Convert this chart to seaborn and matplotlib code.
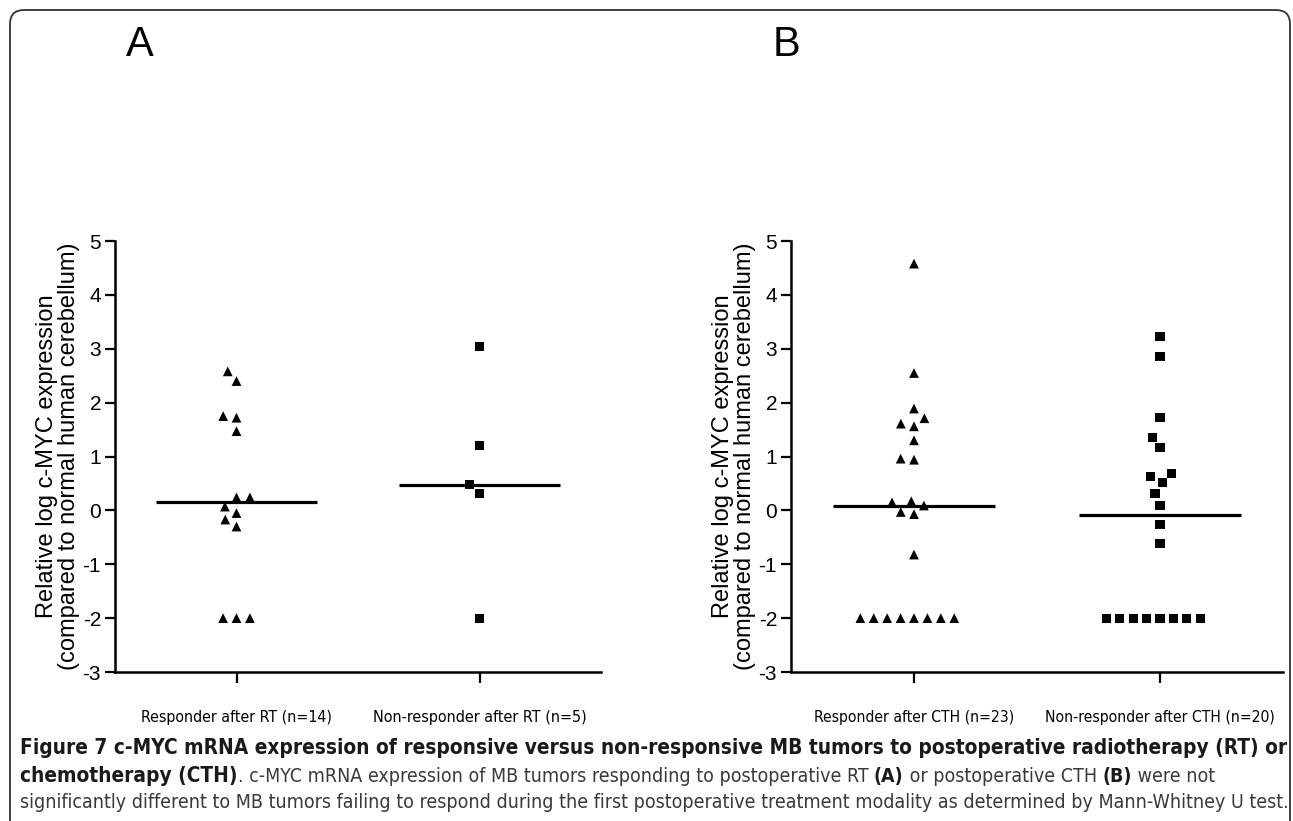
import numpy as np
import pandas as pd
import matplotlib
matplotlib.use("Agg")
import matplotlib.pyplot as plt
import seaborn as sns
from matplotlib import font_manager
from matplotlib.patches import FancyBboxPatch
from matplotlib.transforms import IdentityTransform

# ---------------- data ----------------
cats_rt = ["Responder after RT (n=14)", "Non-responder after RT (n=5)"]
cats_cth = ["Responder after CTH (n=23)", "Non-responder after CTH (n=20)"]

resp_rt = [2.58, 2.40, 1.75, 1.72, 1.47, 0.24, 0.24, 0.07, -0.05, -0.17, -0.30,
           -2.0, -2.0, -2.0]
nonresp_rt = [3.04, 1.20, 0.48, 0.32, -2.0]

resp_cth = [4.58, 2.55, 1.89, 1.71, 1.61, 1.56, 1.30, 0.96, 0.94, 0.17, 0.15,
            0.09, -0.03, -0.07, -0.82,
            -2.0, -2.0, -2.0, -2.0, -2.0, -2.0, -2.0, -2.0]
nonresp_cth = [3.22, 2.86, 1.73, 1.36, 1.16, 0.68, 0.62, 0.51, 0.31, 0.09,
               -0.26, -0.62,
               -2.0, -2.0, -2.0, -2.0, -2.0, -2.0, -2.0, -2.0]

y_ticks = [-3, -2, -1, 0, 1, 2, 3, 4, 5]
y_label = "Relative log c-MYC expression\n(compared to normal human cerebellum)"
panel_letters = ["A", "B"]

# (text, weight, role) — role "title" uses the title size, "body" the body size
caption_lines = [
    [("Figure 7 c-MYC mRNA expression of responsive versus non-responsive MB tumors to postoperative radiotherapy (RT) or", "bold", "title")],
    [("chemotherapy (CTH)", "bold", "title"),
     (". c-MYC mRNA expression of MB tumors responding to postoperative RT ", "normal", "body"),
     ("(A)", "bold", "body"),
     (" or postoperative CTH ", "normal", "body"),
     ("(B)", "bold", "body"),
     (" were not", "normal", "body")],
    [("significantly different to MB tumors failing to respond during the first postoperative treatment modality as determined by Mann-Whitney U test.", "normal", "body")],
]

# ---------------- style ----------------
W, H = 1293, 821
sns.set_style("ticks")
ttf = font_manager.fontManager.ttflist
names = {f.name for f in ttf}
has_dv_cond = any(f.name == "DejaVu Sans" and f.stretch in ("condensed", "semi-condensed")
                  for f in ttf)
if "Liberation Sans Narrow" in names:
    narrow_kw = dict(family=["Liberation Sans Narrow", "Liberation Sans"])
elif has_dv_cond:
    narrow_kw = dict(family=["DejaVu Sans"], fontstretch="condensed")
else:
    narrow_kw = dict(family=["Liberation Sans"])
plt.rcParams["font.family"] = ["Liberation Sans", "DejaVu Sans"]
for k in ["text.color", "axes.labelcolor", "xtick.color", "ytick.color",
          "axes.edgecolor"]:
    plt.rcParams[k] = "black"

fig = plt.figure(figsize=(W / 100, H / 100), dpi=100)
fig.patch.set_facecolor("white")

axA = fig.add_axes([115 / W, 1 - 672 / H, 486 / W, 431 / H])
axB = fig.add_axes([791 / W, 1 - 672 / H, 492 / W, 431 / H])


def panel(ax, cats, resp, nonresp):
    df = pd.DataFrame({
        "group": [cats[0]] * len(resp) + [cats[1]] * len(nonresp),
        "value": resp + nonresp,
    })
    sns.boxplot(data=df, x="group", y="value", order=cats, ax=ax, width=0.66,
                whis=0, showbox=False, showcaps=False, showfliers=False,
                whiskerprops={"visible": False},
                medianprops={"color": "black", "linewidth": 2.3},
                color="black")
    for cat, marker, size in [(cats[0], "^", 7.0), (cats[1], "s", 6.5)]:
        sns.swarmplot(data=df[df["group"] == cat], x="group", y="value",
                      order=cats, ax=ax, marker=marker, size=size,
                      color="black", linewidth=9.2 - size, edgecolor="none",
                      zorder=3)
    for coll in ax.collections:
        coll.set_edgecolor("none")
    ax.set_ylim(-3, 5)
    ax.set_yticks(y_ticks)
    ax.set_yticklabels([str(t) for t in y_ticks], fontsize=15, color="black")
    ax.set_xlim(-0.5, 1.5)
    ax.set_xlabel("")
    ax.set_ylabel(y_label, fontsize=17, labelpad=2, linespacing=1.0,
                  color="black")
    ax.tick_params(axis="x", length=8, width=1.6, pad=19, labelsize=11.5,
                   color="black", labelcolor="black")
    ax.tick_params(axis="y", length=7, width=1.6, pad=3, color="black",
                   labelcolor="black")
    for lab in ax.get_xticklabels():
        lab.set(**narrow_kw)
    for s in ["top", "right"]:
        ax.spines[s].set_visible(False)
    for s in ["left", "bottom"]:
        ax.spines[s].set_linewidth(1.8)
        ax.spines[s].set_color("black")


panel(axA, cats_rt, resp_rt, nonresp_rt)
panel(axB, cats_cth, resp_cth, nonresp_cth)

renderer = fig.canvas.get_renderer()
for ax in (axA, axB):
    for lab in ax.get_xticklabels():
        w = lab.get_window_extent(renderer).width
        target = 192 * len(lab.get_text()) / len("Responder after RT (n=14)")
        lab.set_fontsize(11.5 * min(target / w, 1.25))

# panel letters
fig.text(140 / W, 1 - 25 / H, panel_letters[0], ha="center", va="top",
         fontsize=30, color="black")
fig.text(787 / W, 1 - 25 / H, panel_letters[1], ha="center", va="top",
         fontsize=30, color="black")

# border
border = FancyBboxPatch((10, -40), 1280, H - 10 + 40,
                        boxstyle="round,pad=0,rounding_size=14",
                        transform=IdentityTransform(), fill=False,
                        edgecolor="#333333", linewidth=1.3)
fig.add_artist(border)


# caption
def width_of(text, size, weight):
    probe = fig.text(0, 0, text, fontsize=size, fontweight=weight, **narrow_kw)
    w = probe.get_window_extent(renderer).width
    probe.remove()
    return w


title_size = 12 * 1262 / width_of(caption_lines[0][0][0], 12, "bold")
body_size = 12 * 1262 / width_of(caption_lines[2][0][0], 12, "normal")

baselines = [754, 782, 808]
for line, yb in zip(caption_lines, baselines):
    x = 20
    for txt, weight, role in line:
        size = title_size if role == "title" else body_size
        t = fig.text(x / W, 1 - yb / H, txt, fontsize=size, fontweight=weight,
                     va="baseline", ha="left",
                     color="#1a1a1a" if weight == "bold" else "#3a3a3a",
                     **narrow_kw)
        x += t.get_window_extent(renderer).width

fig.savefig("out.png", dpi=100)
